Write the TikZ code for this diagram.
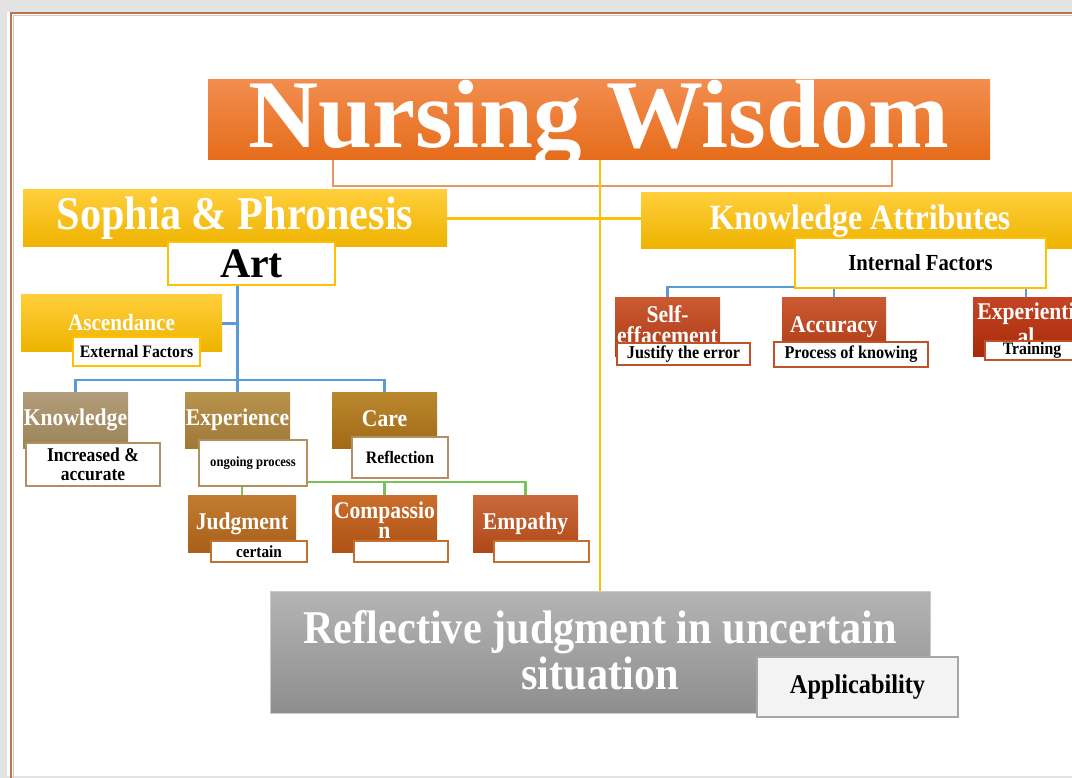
\documentclass[tikz,border=0pt]{standalone}
\usepackage{fontspec}
\setmainfont{Liberation Serif}
\newfontfamily\cf[FakeStretch=0.9]{Liberation Serif}
\pgfdeclarelayer{panellayer}
\pgfdeclarelayer{connlayer}
\pgfsetlayers{panellayer,connlayer,main}
\definecolor{pagegray}{HTML}{E3E3E3}
\definecolor{panelbrown}{HTML}{B8764E}
\definecolor{orTop}{HTML}{F28D4F}
\definecolor{orBot}{HTML}{E66C1A}
\definecolor{brk}{HTML}{E8956A}
\definecolor{yTop}{HTML}{FFCE3A}
\definecolor{yBot}{HTML}{EEB300}
\definecolor{ylw}{HTML}{FFC000}
\definecolor{blu}{HTML}{5B9BD5}
\definecolor{grn}{HTML}{78C25A}
\definecolor{tanT}{HTML}{B29C7A}
\definecolor{tanB}{HTML}{9C8458}
\definecolor{expT}{HTML}{B8944E}
\definecolor{expB}{HTML}{A07838}
\definecolor{carT}{HTML}{BA882E}
\definecolor{carB}{HTML}{A26A16}
\definecolor{judT}{HTML}{C27C32}
\definecolor{judB}{HTML}{A8601A}
\definecolor{comT}{HTML}{CA6E2C}
\definecolor{comB}{HTML}{AE5216}
\definecolor{empT}{HTML}{CA6A3C}
\definecolor{empB}{HTML}{B04818}
\definecolor{redT}{HTML}{CA5A32}
\definecolor{redB}{HTML}{AE3A16}
\definecolor{dredT}{HTML}{C44424}
\definecolor{dredB}{HTML}{A82A08}
\definecolor{tanLine}{HTML}{B09060}
\definecolor{orLine}{HTML}{C27030}
\definecolor{redLine}{HTML}{C0522A}
\definecolor{grT}{HTML}{B4B4B4}
\definecolor{grB}{HTML}{8E8E8E}
\definecolor{grLine}{HTML}{A6A6A6}
\definecolor{apFill}{HTML}{F3F3F3}
\newcommand{\fsz}[2]{\fontsize{#1}{#2}\selectfont}
\begin{document}
\begin{tikzpicture}[x=1pt,y=-1pt,
  cbox/.style={anchor=north west, inner sep=0pt, outer sep=0pt, align=center, text=white},
  lbox/.style={anchor=north west, inner sep=0pt, outer sep=0pt, align=center, text=black, fill=white, line width=1.8pt},
  ylwbox/.style={lbox, draw=ylw},
  tanbox/.style={lbox, draw=tanLine},
  orbox/.style={lbox, draw=orLine},
  redbox/.style={lbox, draw=redLine},
  yshade/.style={top color=yTop, bottom color=yBot},
  conn/.style={line width=2.2pt},
]
\useasboundingbox (0,0) rectangle (1072,778);
\clip (0,0) rectangle (1072,778);
% page and panel
\begin{pgfonlayer}{panellayer}
\fill[pagegray] (0,0) rectangle (1072,778);
\fill[white] (7,12) rectangle (1080,776);
\draw[panelbrown, line width=2pt] (11.3,778) -- (11.3,13) -- (1080,13);
\draw[panelbrown!40, line width=1pt] (13.8,778) -- (13.8,15.5) -- (1080,15.5);
\end{pgfonlayer}

% title
\node[cbox, top color=orTop, bottom color=orBot, minimum width=782, minimum height=80] (title) at (208,80) {};
\node[anchor=base, inner sep=0pt, text=white, font=\bfseries\fsz{97}{100}] (titletext) at (599,148) {Nursing Wisdom};

% level 1
\node[cbox, yshade, minimum width=424, minimum height=57, font=\cf\bfseries\fsz{47}{50}] (soph) at (23,190) {Sophia \& Phronesis};
\node[cbox, yshade, minimum width=438, minimum height=56, font=\cf\bfseries\fsz{35.5}{38}] (kattr) at (641,193) {Knowledge Attributes};
\node[ylwbox, minimum width=167, minimum height=43, font=\bfseries\fsz{42}{44}] (art) at (168,242) {Art};
\node[ylwbox, minimum width=251, minimum height=50, font=\cf\bfseries\fsz{23}{25}] (intf) at (795,238) {Internal Factors};

% left branch
\node[cbox, yshade, minimum width=201, minimum height=57, font=\cf\bfseries\fsz{23.5}{25}] (asc) at (21,295) {\raisebox{3pt}{Ascendance}};
\node[ylwbox, minimum width=127, minimum height=29, font=\cf\bfseries\fsz{17.5}{19}] (ext) at (73,337) {External Factors};

\node[cbox, top color=tanT, bottom color=tanB, minimum width=105, minimum height=56, font=\cf\bfseries\fsz{24}{25}] (know) at (23,392) {Knowledge};
\node[tanbox, minimum width=134, minimum height=43, font=\cf\bfseries\fsz{19.5}{19.5}] (inc) at (26,443) {Increased \&\\accurate};
\node[cbox, top color=expT, bottom color=expB, minimum width=105, minimum height=56, font=\cf\bfseries\fsz{24}{25}] (exper) at (185,392) {Experience};
\node[tanbox, minimum width=108, minimum height=46, font=\cf\bfseries\fsz{14}{15}] (ongo) at (199,440) {ongoing process};
\node[cbox, top color=carT, bottom color=carB, minimum width=105, minimum height=56, font=\cf\bfseries\fsz{24}{25}] (care) at (332,392) {\raisebox{3pt}{Care}};
\node[tanbox, minimum width=96, minimum height=41, font=\cf\bfseries\fsz{17.5}{18}] (refl) at (352,437) {Reflection};

\node[cbox, top color=judT, bottom color=judB, minimum width=108, minimum height=57, font=\cf\bfseries\fsz{24}{25}] (judg) at (188,495) {Judgment};
\node[orbox, minimum width=96, minimum height=21, font=\cf\bfseries\fsz{17}{18}] (cert) at (211,541) {certain};
\node[cbox, top color=comT, bottom color=comB, minimum width=105, minimum height=57, font=\cf\bfseries\fsz{24}{23}] (comp) at (332,495) {\raisebox{7pt}{\shortstack{Compassio\\n}}};
\node[orbox, minimum width=94, minimum height=21] (compb) at (354,541) {};
\node[cbox, top color=empT, bottom color=empB, minimum width=105, minimum height=57, font=\cf\bfseries\fsz{24}{25}] (emp) at (473,495) {Empathy};
\node[orbox, minimum width=95, minimum height=21] (empb) at (494,541) {};

% right branch
\node[cbox, top color=redT, bottom color=redB, minimum width=105, minimum height=59, font=\cf\bfseries\fsz{24}{25}] (self) at (615,298) {\raisebox{6pt}{\shortstack{Self-\\effacement}}};
\node[redbox, minimum width=133, minimum height=22, font=\cf\bfseries\fsz{18}{19}] (just) at (617,343) {Justify the error};
\node[cbox, top color=redT, bottom color=redB, minimum width=104, minimum height=59, font=\cf\bfseries\fsz{24}{25}] (acc) at (782,298) {\raisebox{5pt}{Accuracy}};
\node[redbox, minimum width=154, minimum height=25, font=\cf\bfseries\fsz{18}{19}] (proc) at (774,342) {Process of knowing};
\node[cbox, top color=dredT, bottom color=dredB, minimum width=106, minimum height=59, font=\cf\bfseries\fsz{24}{23}] (expl) at (973,298) {\raisebox{7pt}{\shortstack{Experienti\\al}}};
\node[redbox, minimum width=94, minimum height=19, font=\cf\bfseries\fsz{17.5}{18}] (train) at (985,341) {Training};

% bottom
\node[cbox, top color=grT, bottom color=grB, draw=grLine!60, line width=1pt, minimum width=660, minimum height=122,
      font=\cf\bfseries\fsz{47}{48}] (refg) at (270,591) {\raisebox{4pt}{\shortstack{Reflective judgment in uncertain\\situation}}};
\node[lbox, fill=apFill, draw=grLine, line width=2pt, minimum width=201, minimum height=60, font=\cf\bfseries\fsz{27}{28}] (appl) at (757,657) {Applicability};

% connectors
\begin{pgfonlayer}{connlayer}
  \draw[brk, line width=2pt] (title.south west) ++(125,0) -- ++(0,26) -- ++(559,0) -- ++(0,-26);
  \draw[ylw, conn] (title.south -| refg.north) -- (refg.north);
  \draw[ylw, conn] (soph.east) -- (soph.east -| kattr.west);
  \draw[blu, conn] (art.south -| exper.north) -- (exper.north);
  \draw[blu, conn] (asc.east) -- (asc.east -| exper.north);
  \draw[blu, conn] (know.north) -- ++(0,-12) -| (care.north);
  \draw[grn, conn] (judg.north) -- ++(0,-13) -| (emp.north);
  \draw[grn, conn] (comp.north) -- ++(0,-13);
  \draw[blu, conn] (self.north) -- ++(0,-11) -| (expl.north);
  \draw[blu, conn] (acc.north) -- ++(0,-11);
\end{pgfonlayer}
\end{tikzpicture}
\end{document}
